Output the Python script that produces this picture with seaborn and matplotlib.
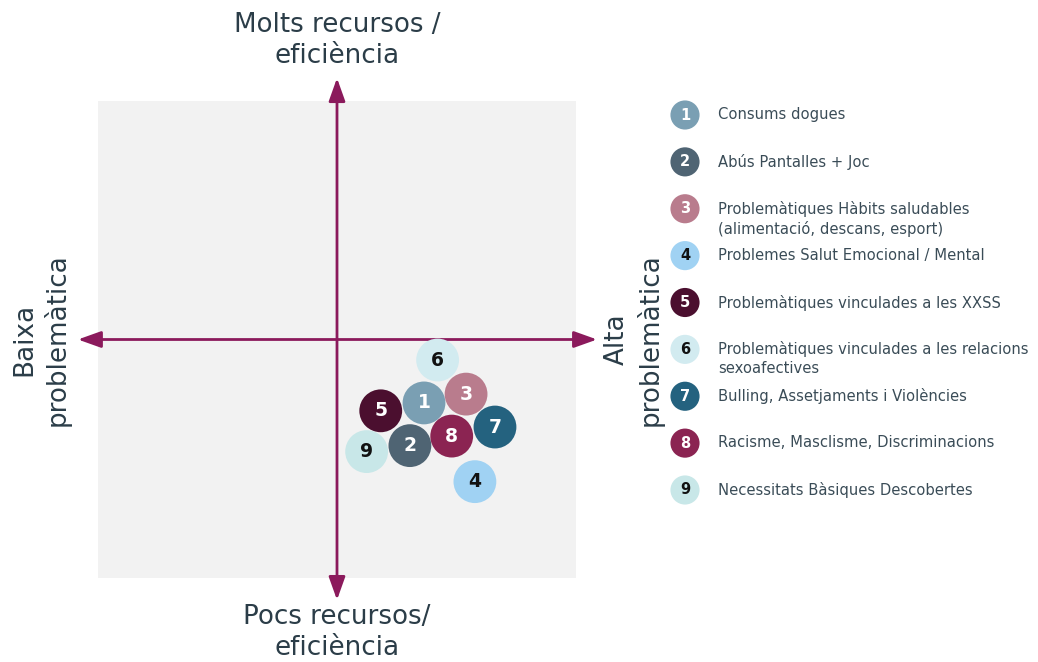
import pandas as pd
import seaborn as sns
import matplotlib.pyplot as plt

# bubble data (x = problemàtica, y = recursos; quadrant goes from -1 to 1)
ids = ['1', '2', '3', '4', '5', '6', '7', '8', '9']
labels = ['Consums dogues',
          'Abús Pantalles + Joc',
          'Problemàtiques Hàbits saludables\n(alimentació, descans, esport)',
          'Problemes Salut Emocional / Mental',
          'Problemàtiques vinculades a les XXSS',
          'Problemàtiques vinculades a les relacions\nsexoafectives',
          'Bulling, Assetjaments i Violències',
          'Racisme, Masclisme, Discriminacions',
          'Necessitats Bàsiques Descobertes']
x_vals = [0.364, 0.305, 0.540, 0.577, 0.183, 0.421, 0.661, 0.480, 0.124]
y_vals = [-0.266, -0.445, -0.229, -0.596, -0.299, -0.086, -0.367, -0.405, -0.470]
colors = ['#7a9fb3', '#4f6473', '#b97c8d', '#a0d2f3', '#4b0f2f',
          '#d2ebf0', '#24627f', '#8b2452', '#c8e7e8']
num_colors = ['white', 'white', 'white', '#111111', 'white',
              '#111111', 'white', 'white', '#111111']

df = pd.DataFrame({'id': ids, 'label': labels, 'x': x_vals, 'y': y_vals})
df['pos'] = range(len(df))

sns.set_theme(style='white')
plt.rcParams['font.family'] = ['DejaVu Sans']

W, H = 1038, 662
fig = plt.figure(figsize=(W / 100, H / 100), dpi=100)

arrow_c = '#8b1a5c'
text_c = '#2b3d48'

# quadrant
ax = fig.add_axes([98 / W, 1 - 578 / H, 478 / W, 477 / H])
ax.set_facecolor('#f2f2f2')
ax.set_xlim(-1, 1)
ax.set_ylim(-1, 1)
ax.set_xticks([])
ax.set_yticks([])
for s in ax.spines.values():
    s.set_visible(False)

arrow = dict(arrowstyle='<|-|>,head_length=0.7,head_width=0.25',
             color=arrow_c, lw=2, mutation_scale=20, shrinkA=0, shrinkB=0)
ax.annotate('', xy=(0, 1.096), xytext=(0, -1.092), arrowprops=arrow,
            annotation_clip=False)
ax.annotate('', xy=(-1.084, 0), xytext=(1.088, 0), arrowprops=arrow,
            annotation_clip=False)

sns.scatterplot(data=df, x='x', y='y', hue='id', palette=colors, s=950,
                linewidth=0, legend=False, ax=ax, zorder=3)
for _, r in df.iterrows():
    ax.text(r['x'], r['y'], r['id'], ha='center', va='center', fontsize=13.5,
            fontweight='bold', color=num_colors[r['pos']], zorder=4)
ax.set_xlabel('')
ax.set_ylabel('')

lab = dict(ha='center', va='center', fontsize=18.8, color=text_c,
           linespacing=1.25, clip_on=False)
ax.text(0, 1.252, 'Molts recursos /\neficiència', **lab)
ax.text(0, -1.228, 'Pocs recursos/\neficiència', **lab)
ax.text(-1.238, 0, 'Baixa\nproblemàtica', rotation=90, **lab)
ax.text(1.241, 0, 'Alta\nproblemàtica', rotation=90, **lab)

# legend
lax = fig.add_axes([685 / W, 1 - 490 / H, 353 / W, 375 / H])
lax.set_xlim(0, 1)
lax.set_ylim(8, 0)
lax.axis('off')
df['lx'] = 0.0
sns.scatterplot(data=df, x='lx', y='pos', hue='id', palette=colors, s=440,
                linewidth=0, legend=False, ax=lax, clip_on=False)
for _, r in df.iterrows():
    lax.text(0, r['pos'], r['id'], ha='center', va='center', fontsize=10.5,
             fontweight='bold', color=num_colors[r['pos']])
    lax.text(0.094, r['pos'] - 0.17, r['label'], ha='left', va='top',
             fontsize=10.6, color='#3a4c57', linespacing=1.3)

fig.savefig('out.png', dpi=100)
